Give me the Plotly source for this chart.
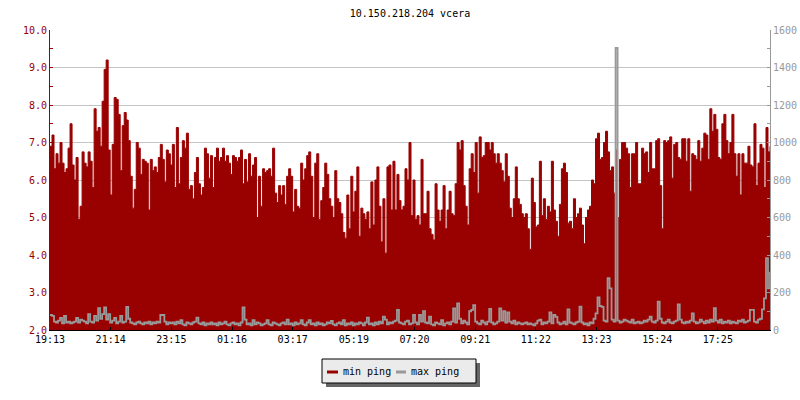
import plotly.graph_objects as go

# ---- data -------------------------------------------------------------
title_text = "10.150.218.204 vcera"
tick_labels = ["19:13", "21:14", "23:15", "01:16", "03:17", "05:19",
               "07:20", "09:21", "11:22", "13:23", "15:24", "17:25"]
series_names = ["min ping", "max ping"]
sample_step_min = 4  # one sample every 4 minutes, starting at 19:13

min_ping = [
    6.9, 7.2, 6.3, 6.7, 6.45, 7.0, 6.45, 6.2, 6.3, 6.85,
    7.5, 6.4, 6.0, 6.6, 4.95, 5.3, 6.75, 6.45, 6.35, 6.75,
    6.5, 5.8, 7.9, 7.3, 7.4, 6.9, 8.1, 8.95, 9.2, 6.8,
    5.6, 6.95, 8.2, 8.15, 7.75, 6.25, 7.45, 7.8, 7.6, 7.05,
    6.1, 5.25, 5.75, 7.0, 6.85, 6.15, 6.55, 6.5, 6.45, 5.2,
    6.55, 6.25, 6.35, 6.2, 6.6, 6.95, 6.55, 5.95, 6.8, 6.7,
    6.4, 6.95, 5.8, 7.4, 5.9, 6.6, 7.05, 6.85, 7.25, 5.75,
    5.85, 5.5, 6.2, 6.6, 5.9, 5.6, 5.8, 6.85, 6.7, 6.05,
    6.65, 5.8, 6.6, 6.85, 6.5, 6.6, 6.85, 6.5, 6.65, 6.45,
    6.15, 6.65, 6.6, 6.5, 6.6, 6.8, 5.9, 6.55, 5.95, 6.7,
    6.1, 6.4, 6.6, 5.0, 6.1, 5.3, 6.3, 6.2, 6.25, 6.3,
    6.1, 6.85, 5.65, 5.4, 5.85, 5.6, 5.85, 5.35, 6.1, 6.3,
    6.1, 5.15, 5.75, 5.3, 5.25, 6.45, 6.0, 6.3, 6.65, 6.75,
    6.1, 5.0, 6.45, 6.7, 4.95, 5.45, 5.8, 6.45, 6.15, 5.5,
    5.3, 5.0, 6.25, 5.5, 5.4, 5.1, 4.6, 4.45, 5.6, 4.7,
    6.1, 5.15, 5.7, 6.35, 4.5, 5.25, 5.1, 4.95, 5.15, 4.7,
    5.95, 4.8, 6.0, 6.35, 5.3, 4.35, 5.5, 4.05, 6.35, 6.4,
    5.2, 6.5, 5.2, 6.15, 5.45, 5.2, 5.3, 6.3, 6.0, 7.0,
    5.05, 6.0, 4.95, 5.05, 4.8, 6.55, 5.1, 5.1, 5.7, 4.7,
    4.55, 4.4, 5.9, 5.2, 4.9, 5.2, 5.85, 4.7, 5.2, 5.7,
    5.1, 5.05, 5.9, 7.0, 6.8, 7.05, 5.85, 5.3, 4.8, 6.3,
    6.7, 6.2, 7.0, 5.65, 7.15, 6.6, 6.65, 7.0, 7.0, 6.8,
    7.0, 6.7, 6.45, 6.7, 6.45, 6.25, 5.95, 6.7, 6.1, 5.25,
    5.0, 5.5, 6.35, 5.5, 5.35, 5.1, 5.0, 5.1, 4.7, 4.15,
    6.05, 5.4, 4.75, 4.8, 6.5, 5.05, 5.5, 4.95, 5.3, 5.15,
    6.5, 5.2, 4.9, 4.5, 5.35, 6.3, 6.45, 6.2, 4.85, 4.9,
    4.7, 5.5, 5.0, 5.1, 5.25, 4.8, 4.3, 5.0, 5.2, 5.3,
    6.0, 5.9, 7.1, 7.25, 6.55, 6.6, 7.0, 7.3, 6.75, 6.25,
    6.35, 5.65, 6.8, 5.0, 6.55, 7.0, 7.0, 6.85, 6.7, 5.8,
    6.7, 6.7, 7.0, 5.9, 5.9, 6.85, 6.7, 6.75, 6.2, 7.0,
    6.3, 6.3, 7.05, 7.1, 5.85, 4.7, 7.05, 7.0, 7.05, 7.15,
    6.05, 6.95, 7.0, 6.6, 6.55, 7.1, 7.1, 6.5, 7.1, 5.7,
    6.7, 6.65, 6.55, 7.05, 6.5, 6.85, 7.25, 7.2, 6.55, 7.9,
    7.3, 7.75, 7.35, 6.6, 6.55, 7.5, 7.75, 7.05, 6.7, 7.0,
    7.75, 6.7, 6.1, 6.7, 5.6, 6.7, 6.45, 6.45, 6.9, 6.4,
    6.35, 7.5, 5.85, 6.45, 6.95, 6.85, 5.8, 7.4, 6.75, 6.9,
]

max_ping = [
    80, 75, 45, 40, 50, 65, 35, 75, 40, 45, 35, 40, 45, 65, 40, 55, 50, 45, 35, 85,
    45, 40, 75, 50, 117, 60, 85, 120, 55, 85, 40, 50, 65, 35, 45, 75, 40, 45, 123, 60,
    40, 35, 30, 40, 45, 35, 30, 40, 35, 45, 30, 40, 35, 45, 40, 80, 80, 45, 30, 40,
    35, 40, 30, 45, 35, 53, 30, 25, 40, 35, 30, 40, 45, 66, 35, 30, 40, 25, 35, 30,
    40, 30, 35, 25, 40, 30, 35, 45, 30, 25, 35, 40, 30, 35, 25, 40, 120, 55, 30, 35,
    25, 53, 30, 40, 35, 25, 30, 35, 53, 30, 25, 40, 35, 30, 25, 35, 40, 30, 55, 30,
    35, 25, 40, 30, 35, 53, 30, 25, 40, 53, 30, 35, 25, 40, 30, 35, 25, 30, 40, 35,
    48, 30, 25, 35, 40, 30, 53, 25, 35, 30, 40, 25, 35, 30, 40, 35, 25, 40, 66, 30,
    35, 25, 40, 30, 45, 35, 71, 55, 30, 40, 35, 45, 50, 107, 40, 35, 30, 45, 50, 30,
    35, 80, 40, 30, 80, 45, 100, 40, 35, 71, 30, 25, 40, 35, 30, 53, 25, 35, 40, 30,
    45, 115, 40, 142, 60, 35, 50, 40, 30, 100, 107, 133, 45, 35, 30, 50, 40, 30, 45, 112,
    40, 30, 35, 45, 115, 50, 100, 40, 94, 45, 35, 50, 30, 40, 35, 30, 35, 40, 30, 35,
    30, 25, 35, 50, 55, 30, 40, 35, 45, 94, 35, 80, 70, 40, 30, 35, 45, 30, 110, 40,
    35, 30, 40, 45, 125, 40, 30, 35, 25, 40, 35, 60, 89, 174, 128, 123, 50, 45, 276, 222,
    55, 45, 1504, 50, 40, 45, 55, 50, 45, 40, 55, 35, 40, 45, 35, 40, 50, 45, 55, 71,
    45, 40, 50, 151, 60, 40, 35, 45, 55, 40, 35, 45, 50, 137, 55, 40, 35, 45, 40, 50,
    89, 45, 35, 40, 55, 45, 35, 50, 40, 55, 45, 116, 50, 40, 55, 35, 45, 40, 50, 35,
    45, 40, 35, 50, 45, 55, 40, 45, 50, 107, 107, 45, 40, 55, 60, 110, 169, 383, 222, 311,
]

# ---- derived axes -----------------------------------------------------
def minutes_since_start(label, start="19:13"):
    h, m = map(int, label.split(":"))
    sh, sm = map(int, start.split(":"))
    return ((h * 60 + m) - (sh * 60 + sm)) % 1440

tick_vals = [minutes_since_start(t) for t in tick_labels]
x_vals = [i * sample_step_min for i in range(len(min_ping))]

RED = "#990000"
GRAY = "#999999"
FONT = "DejaVu Sans Mono"

# plot area in pixels (for legend placement helpers)
L, R, T, B, W, H = 50, 30, 30, 70, 800, 400
PW, PH = W - L - R, H - T - B
def px_x(x):
    return (x - L) / PW
def px_y(y):
    return (H - B - y) / PH

fig = go.Figure()
fig.add_trace(go.Scatter(
    x=x_vals, y=min_ping, mode="lines", yaxis="y", name=series_names[0],
    line=dict(color=RED, width=1, shape="hv"),
    fill="tozeroy", fillcolor=RED, showlegend=False, hoverinfo="skip",
))
fig.add_trace(go.Scatter(
    x=x_vals, y=max_ping, mode="lines", yaxis="y2", name=series_names[1],
    line=dict(color=GRAY, width=1.8, shape="hv"),
    showlegend=False, hoverinfo="skip",
))

# legend box drawn as layout decoration (short keys like the original)
shapes = [
    dict(type="rect", xref="paper", yref="paper",
         x0=px_x(326), x1=px_x(480), y0=px_y(387), y1=px_y(363),
         fillcolor="#666666", line=dict(width=0), layer="above"),
    dict(type="rect", xref="paper", yref="paper",
         x0=px_x(322), x1=px_x(476), y0=px_y(383), y1=px_y(359),
         fillcolor="#ebebeb", line=dict(color="black", width=1), layer="above"),
    dict(type="line", xref="paper", yref="paper",
         x0=px_x(327), x1=px_x(338), y0=px_y(372), y1=px_y(372),
         line=dict(color=RED, width=3), layer="above"),
    dict(type="line", xref="paper", yref="paper",
         x0=px_x(396), x1=px_x(406), y0=px_y(372), y1=px_y(372),
         line=dict(color=GRAY, width=3), layer="above"),
]
annotations = [
    dict(text=series_names[0], xref="paper", yref="paper",
         x=px_x(341), y=px_y(371), xanchor="left", yanchor="middle",
         showarrow=False, font=dict(family=FONT, size=10, color="black")),
    dict(text=series_names[1], xref="paper", yref="paper",
         x=px_x(409), y=px_y(371), xanchor="left", yanchor="middle",
         showarrow=False, font=dict(family=FONT, size=10, color="black")),
]

fig.update_layout(
    width=W, height=H,
    margin=dict(l=L, r=R, t=T, b=B, autoexpand=False),
    paper_bgcolor="white", plot_bgcolor="white",
    font=dict(family=FONT, size=10, color="black"),
    title=dict(text=title_text, x=0.5, xanchor="center", xref="paper",
               yref="container", y=1 - 13 / H, yanchor="middle",
               font=dict(family=FONT, size=10, color="black")),
    xaxis=dict(
        range=[0, x_vals[-1]], tickvals=tick_vals, ticktext=tick_labels,
        showgrid=False, zeroline=False, automargin=False,
        showline=True, linecolor="black", linewidth=1,
        ticks="inside", ticklen=3, tickcolor="black",
        tickfont=dict(family=FONT, size=10, color="black"),
    ),
    yaxis=dict(
        range=[2, 10], dtick=1, tickformat=".1f", automargin=False,
        showgrid=True, gridcolor="#c4c4c4", gridwidth=1, zeroline=False,
        showline=True, linecolor=RED, linewidth=1,
        ticks="inside", ticklen=3, tickcolor=RED,
        minor=dict(dtick=0.5, ticks="inside", ticklen=3, tickcolor=RED, showgrid=False),
        tickfont=dict(family=FONT, size=10, color=RED),
    ),
    yaxis2=dict(
        range=[0, 1600], dtick=200, overlaying="y", side="right", automargin=False,
        showgrid=False, zeroline=False,
        showline=True, linecolor=GRAY, linewidth=1,
        ticks="inside", ticklen=3, tickcolor=GRAY,
        minor=dict(dtick=100, ticks="inside", ticklen=3, tickcolor=GRAY),
        tickfont=dict(family=FONT, size=10, color=GRAY),
    ),
    shapes=shapes,
    annotations=annotations,
    showlegend=False,
)

fig.write_html(
    "out.html",
    config={"displayModeBar": False, "staticPlot": True},
    post_script="document.body.style.margin='0px';document.body.style.padding='0px';",
)
